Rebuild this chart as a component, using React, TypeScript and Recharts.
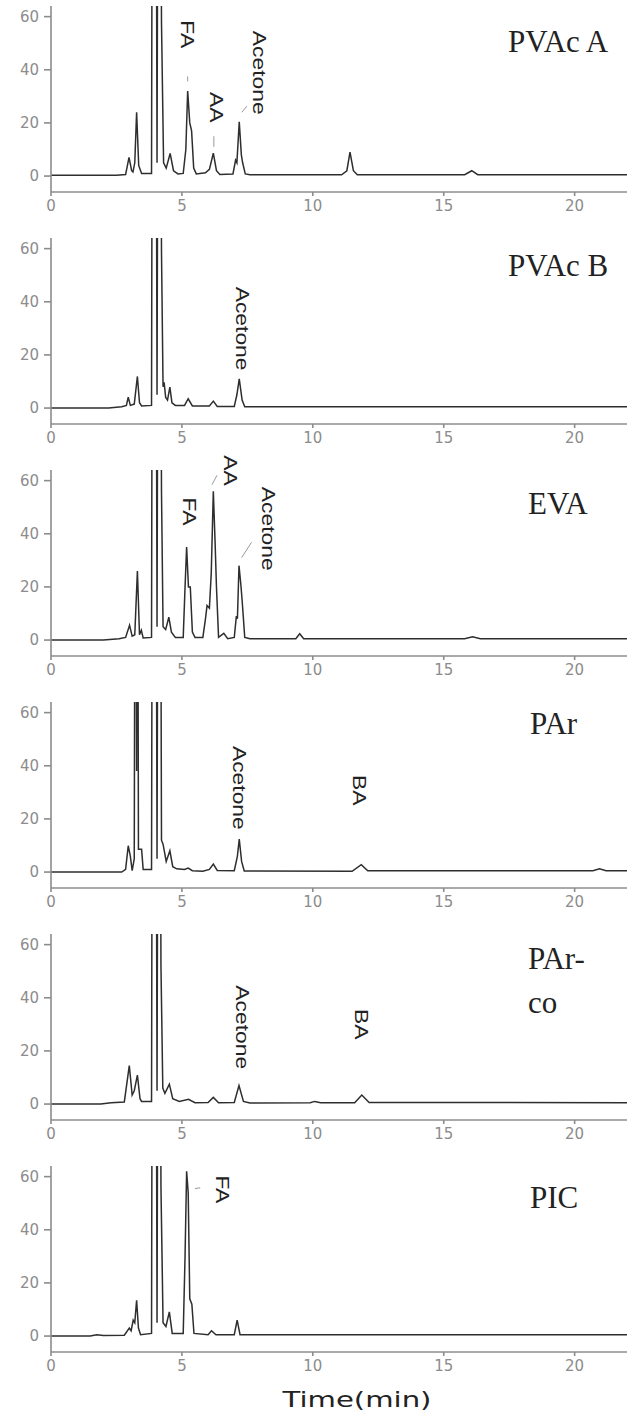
import React from 'react';
import { LineChart, Line, XAxis, YAxis, ReferenceDot, ReferenceLine } from 'recharts';

document.body.style.margin = '0';

// chromatogram traces, [time (min), signal]
const pvacA: [number, number][] = [
  [0, 0.3], [2.5, 0.3], [2.85, 0.6], [2.98, 7], [3.08, 2], [3.13, 1.5], [3.2, 5], [3.27, 24], [3.35, 4], [3.46, 1],
  [3.84, 1], [3.88, 200], [4.0, 200], [4.05, 5], [4.1, 200], [4.17, 200], [4.22, 58], [4.3, 5], [4.4, 3], [4.55, 8.5],
  [4.68, 2], [4.85, 0.8], [5.05, 1], [5.15, 10], [5.22, 32], [5.3, 20], [5.37, 17], [5.45, 3], [5.55, 0.8], [5.9, 1.2],
  [6.05, 2.5], [6.2, 8.6], [6.32, 2], [6.45, 0.6], [6.95, 0.8], [7.05, 6], [7.1, 5], [7.19, 20.4], [7.27, 8], [7.32, 5],
  [7.42, 0.8], [7.6, 0.5], [11.1, 0.5], [11.3, 2], [11.42, 9], [11.55, 2], [11.7, 0.5], [15.8, 0.5], [16.07, 2],
  [16.3, 0.5], [22, 0.5],
];
const pvacB: [number, number][] = [
  [0, 0], [2.2, 0], [2.7, 0.5], [2.88, 1], [2.95, 4.1], [3.03, 1], [3.18, 1.5], [3.3, 11.9], [3.38, 2], [3.46, 0.8],
  [3.84, 1], [3.88, 200], [4.0, 200], [4.05, 5], [4.1, 200], [4.17, 200], [4.22, 59], [4.28, 8], [4.32, 9.7], [4.38, 4],
  [4.45, 3], [4.54, 7.9], [4.62, 2], [4.75, 1], [5.1, 1], [5.24, 3.5], [5.4, 0.8], [6.05, 0.8], [6.2, 2.6], [6.35, 0.6],
  [7.0, 0.6], [7.1, 5], [7.19, 11], [7.3, 3], [7.4, 0.5], [22, 0.5],
];
const eva: [number, number][] = [
  [0, 0], [2.0, 0], [2.6, 0.5], [2.85, 1], [3.0, 5.6], [3.1, 1.5], [3.2, 2], [3.3, 26], [3.38, 2], [3.45, 3.7], [3.52, 0.8],
  [3.84, 1], [3.88, 200], [4.0, 200], [4.05, 5], [4.1, 200], [4.17, 200], [4.22, 56], [4.28, 5], [4.38, 4], [4.5, 8.6],
  [4.6, 3], [4.75, 1], [5.05, 1], [5.12, 20], [5.18, 35], [5.25, 20], [5.32, 20], [5.4, 3], [5.5, 1], [5.8, 1], [5.9, 8],
  [5.96, 13], [6.05, 12], [6.12, 25], [6.2, 56], [6.27, 36], [6.32, 20], [6.4, 1], [6.6, 2.5], [6.75, 0.5], [7.0, 1],
  [7.08, 9], [7.12, 8], [7.18, 28], [7.25, 21], [7.3, 15], [7.4, 1], [7.6, 0.5], [9.35, 0.5], [9.5, 2.4], [9.65, 0.5],
  [15.8, 0.5], [16.1, 1.2], [16.4, 0.5], [22, 0.5],
];
const par: [number, number][] = [
  [0, 0], [2.7, 0], [2.85, 1], [2.95, 9.9], [3.03, 6], [3.1, 0.5], [3.18, 5], [3.22, 200], [3.27, 38], [3.3, 200],
  [3.34, 8.6], [3.46, 8.6], [3.52, 1], [3.84, 1], [3.88, 200], [4.0, 200], [4.05, 5], [4.1, 200], [4.17, 200], [4.22, 12],
  [4.28, 10.5], [4.4, 4], [4.54, 8], [4.65, 2], [4.8, 1.2], [5.1, 1], [5.24, 1.5], [5.4, 0.5], [5.8, 0.3], [6.05, 1],
  [6.2, 3], [6.35, 0.6], [7.0, 0.5], [7.12, 6], [7.19, 12.4], [7.28, 4], [7.38, 0.4], [11.5, 0.3], [11.85, 2.8],
  [12.1, 0.5], [20.7, 0.5], [20.95, 1.2], [21.2, 0.5], [22, 0.5],
];
const parCo: [number, number][] = [
  [0, 0], [1.9, 0], [2.3, 0.5], [2.8, 0.8], [2.99, 14.5], [3.1, 3.4], [3.18, 5], [3.3, 10.9], [3.4, 2], [3.46, 1],
  [3.84, 1], [3.88, 200], [4.0, 200], [4.05, 5], [4.1, 200], [4.15, 200], [4.2, 52], [4.27, 6], [4.35, 4], [4.52, 7.5],
  [4.65, 2], [4.9, 1], [5.25, 1.8], [5.5, 0.5], [6.0, 0.6], [6.2, 2.5], [6.4, 0.5], [7.0, 0.6], [7.18, 7], [7.35, 1],
  [7.6, 0.4], [9.9, 0.5], [10.07, 1], [10.3, 0.5], [11.6, 0.5], [11.87, 3.4], [12.15, 0.6], [22, 0.5],
];
const pic: [number, number][] = [
  [0, 0], [1.5, 0], [1.75, 0.5], [2.0, 0.2], [2.8, 0.3], [2.99, 3], [3.06, 2], [3.14, 6], [3.2, 5], [3.27, 13.5],
  [3.34, 3], [3.42, 0.5], [3.84, 1], [3.88, 200], [4.0, 200], [4.05, 5], [4.1, 200], [4.15, 200], [4.2, 56], [4.28, 5],
  [4.39, 3.6], [4.52, 9.1], [4.63, 1], [5.05, 1], [5.12, 30], [5.18, 62], [5.24, 54], [5.3, 14], [5.38, 12], [5.46, 1],
  [6.0, 0.5], [6.13, 2], [6.3, 0.5], [7.0, 0.5], [7.11, 6], [7.22, 0.5], [22, 0.5],
];

const traces = [pvacA, pvacB, eva, par, parCo, pic];
const titles = [['PVAc A'], ['PVAc B'], ['EVA'], ['PAr'], ['PAr-', 'co'], ['PIC']];

// peak names: [text, time, signal at label centre]
const peakNames: [string, number, number][][] = [
  [['FA', 5.23, 53.4], ['AA', 6.34, 25.9], ['Acetone', 7.98, 38.9]],
  [['Acetone', 7.3, 29.9]],
  [['FA', 5.3, 48.4], ['AA', 6.87, 63.8], ['Acetone', 8.3, 41.9]],
  [['Acetone', 7.2, 31.7], ['BA', 11.8, 30.8]],
  [['Acetone', 7.31, 28.9], ['BA', 11.85, 30]],
  [['FA', 6.55, 55.2]],
];
// leader ticks: [t1, v1, t2, v2]
const leaders: [number, number, number, number][][] = [
  [[5.22, 37.5, 5.22, 35.6], [6.22, 15, 6.22, 11], [7.29, 24, 7.48, 26.3]],
  [],
  [[6.15, 58.5, 6.34, 62], [7.28, 31, 7.66, 36.8]],
  [],
  [],
  [[5.5, 55.5, 5.7, 55.8]],
];

const xTicks = [0, 5, 10, 15, 20];
const yTicks = [0, 20, 40, 60];

const W = 627;
const H = 232;
const axisColor = '#8c8c8c';
const tickStyle = { fill: '#8c8c8c', fontSize: 15, fontFamily: 'DejaVu Sans' };

// title placement per panel: x, baseline y
const titlePos = [
  { x: 508, y: 52 }, { x: 508, y: 44 }, { x: 528, y: 50 },
  { x: 530, y: 38 }, { x: 528, y: 41 }, { x: 530, y: 48 },
];

const PeakName = ({ cx, cy, text }: { cx: number; cy: number; text: string }) => (
  <text
    transform={`translate(${cx},${cy}) rotate(90) scale(1.27,1)`}
    textAnchor="middle"
    dominantBaseline="central"
    fontFamily="Liberation Sans, Arial, sans-serif"
    fontSize={18}
    fill="#222"
  >
    {text}
  </text>
);

const Panel = ({ idx }: { idx: number }) => {
  const data = traces[idx].map(([t, v]) => ({ t, v }));
  const pos = titlePos[idx];
  return (
    <div style={{ position: 'relative', width: W, height: H }}>
      <LineChart width={W} height={H} data={data} margin={{ top: 6, right: 0, bottom: 10, left: 11 }}>
        <XAxis
          dataKey="t"
          type="number"
          domain={[0, 22]}
          ticks={xTicks}
          allowDataOverflow
          height={30}
          stroke={axisColor}
          strokeWidth={1.6}
          tickSize={4}
          tickMargin={4}
          tick={tickStyle}
        />
        <YAxis
          type="number"
          domain={[-6, 64]}
          ticks={yTicks}
          allowDataOverflow
          width={40}
          stroke={axisColor}
          strokeWidth={1.6}
          tickSize={7}
          tickMargin={5}
          tick={tickStyle}
        />
        <Line
          dataKey="v"
          type="linear"
          stroke="#2e2e2e"
          strokeWidth={1.5}
          dot={false}
          activeDot={false}
          isAnimationActive={false}
        />
        {leaders[idx].map(([t1, v1, t2, v2], i) => (
          <ReferenceLine
            key={`l${i}`}
            segment={[{ x: t1, y: v1 }, { x: t2, y: v2 }]}
            stroke="#999"
            strokeWidth={1}
            ifOverflow="visible"
          />
        ))}
        {peakNames[idx].map(([text, t, v], i) => (
          <ReferenceDot
            key={`p${i}`}
            x={t}
            y={v}
            r={0}
            ifOverflow="visible"
            shape={(p: any) => <PeakName cx={p.cx} cy={p.cy} text={text} />}
          />
        ))}
      </LineChart>
      <svg width={W} height={H} style={{ position: 'absolute', left: 0, top: 0, pointerEvents: 'none' }}>
        {titles[idx].map((line, i) => (
          <text key={i} x={pos.x} y={pos.y + i * 44} fontFamily="Liberation Serif, serif" fontSize={31} fill="#222">
            {line}
          </text>
        ))}
      </svg>
    </div>
  );
};

export default function App() {
  return (
    <div style={{ width: W, background: '#fff' }}>
      <style>{'.recharts-surface, .recharts-wrapper { overflow: visible !important; }'}</style>
      {traces.map((_, i) => (
        <Panel key={i} idx={i} />
      ))}
      <svg width={W} height={19} style={{ display: 'block', overflow: 'visible' }}>
        <text
          x={357}
          y={15}
          textAnchor="middle"
          fontFamily="DejaVu Sans, sans-serif"
          fontSize={21}
          fill="#222"
          textLength={149}
          lengthAdjust="spacingAndGlyphs"
        >
          Time(min)
        </text>
      </svg>
    </div>
  );
}
